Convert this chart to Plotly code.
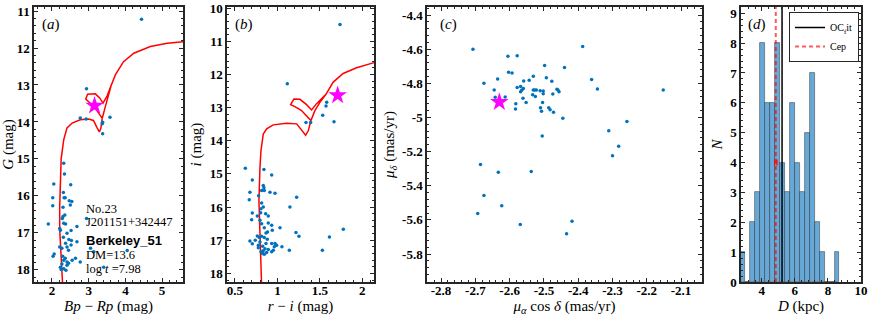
import plotly.graph_objects as go

# ---------------- data ----------------
# Panel (a): Gaia CMD
a_bprp = [4.44, 2.94, 2.77, 2.93, 3.38, 3.37, 3.58, 3.38,
          2.32, 2.34, 2.05, 2.51, 2.02, 2.31, 2.33, 2.36, 2.47, 2.54, 2.02, 2.50,
          2.30, 2.30, 2.28, 2.35, 2.94, 1.90, 2.32, 2.37, 2.68, 2.21, 2.23, 2.41,
          2.52, 2.31, 2.46, 2.53, 2.68, 2.37, 2.21, 2.27, 2.41, 2.52, 3.05, 3.14,
          2.03, 2.06, 2.45, 2.29, 2.32, 2.36, 2.41, 2.45, 2.27, 2.23, 2.32, 2.41,
          2.55, 2.64, 2.77, 2.38, 2.25, 3.41, 4.05]
a_g = [11.22, 13.10, 13.89, 13.92, 14.01, 14.05, 13.87, 14.32,
       15.12, 15.41, 15.68, 15.70, 16.05, 15.91, 16.05, 16.05, 16.13, 16.15, 16.27, 16.25,
       16.31, 16.56, 16.61, 16.52, 16.61, 16.76, 16.74, 16.76, 16.83, 16.88, 16.93, 17.01,
       16.94, 17.12, 17.18, 17.21, 17.24, 17.28, 17.38, 17.42, 17.38, 17.33, 17.42, 17.51,
       17.63, 17.57, 17.47, 17.63, 17.74, 17.69, 17.79, 17.82, 17.84, 17.93, 17.97, 17.88,
       17.74, 17.69, 17.79, 18.01, 17.99, 17.93, 17.48]
a_iso_x = [2.29, 2.25, 2.21, 2.21, 2.23, 2.25, 2.32, 2.41, 2.55, 2.77, 3.00, 3.13, 3.23, 3.29,
           3.33, 3.37, 3.45, 3.53, 3.61, 3.50, 3.39, 3.30, 3.18, 2.97, 2.92, 3.05, 3.20, 3.30,
           3.37, 3.45, 3.53, 3.61, 3.73, 3.95, 4.23, 4.68, 5.14, 5.59]
a_iso_y = [18.40, 17.60, 16.90, 16.30, 15.60, 15.00, 14.48, 14.16, 14.03, 13.94, 13.92, 13.96, 14.16, 14.27,
           14.18, 13.90, 13.60, 13.30, 13.02, 13.30, 13.49, 13.35, 13.24, 13.25, 13.38, 13.50, 13.66, 13.80,
           13.90, 13.60, 13.30, 13.02, 12.72, 12.37, 12.14, 11.96, 11.87, 11.83]
a_star = (3.16, 13.56)

# Panel (b): r - i CMD
b_ri = [1.737, 1.116, 1.58, 1.572, 1.533, 1.336, 1.391, 1.666,
        0.622, 0.841, 0.932, 0.704, 0.833, 0.841, 0.814, 0.845, 0.912, 0.971, 0.676, 0.778,
        1.226, 0.668, 0.814, 0.833, 0.806, 1.147, 0.704, 0.802, 0.861, 0.892, 0.763, 0.696,
        0.794, 0.892, 0.814, 0.932, 1.03, 0.845, 0.939, 0.884, 0.865, 1.776, 1.218, 1.253,
        1.612, 0.763, 0.814, 0.786, 0.845, 0.88, 0.676, 0.739, 0.794, 0.704, 0.775, 0.865,
        0.932, 0.971, 0.99, 0.963, 1.053, 0.775, 0.826, 0.853, 0.833, 0.892, 0.806, 0.873,
        0.932, 0.951, 1.14, 1.529, 0.826, 0.845]
b_i = [10.49, 12.28, 12.84, 12.95, 13.23, 13.45, 13.45, 13.43,
       14.83, 14.87, 15.03, 15.18, 15.35, 15.42, 15.50, 15.50, 15.55, 15.58, 15.55, 15.66,
       15.70, 15.78, 15.88, 16.00, 16.05, 16.00, 16.18, 16.17, 16.20, 16.27, 16.27, 16.38,
       16.40, 16.48, 16.50, 16.55, 16.62, 16.62, 16.70, 16.75, 16.78, 16.67, 16.77, 16.88,
       16.90, 16.87, 16.88, 16.92, 16.92, 16.97, 17.02, 17.00, 17.05, 17.11, 17.15, 17.10,
       17.10, 17.10, 17.15, 17.20, 17.20, 17.23, 17.18, 17.26, 17.32, 17.28, 17.35, 17.37,
       17.35, 17.30, 17.30, 17.30, 17.40, 17.42]
b_iso_x = [0.814, 0.794, 0.782, 0.794, 0.806, 0.833, 0.873, 0.950, 1.108, 1.226, 1.273, 1.332,
           1.363, 1.394, 1.441, 1.500, 1.571, 1.520, 1.461, 1.402, 1.343, 1.265, 1.194, 1.155,
           1.206, 1.284, 1.351, 1.394, 1.441, 1.500, 1.571, 1.657, 1.774, 1.932, 2.127, 2.20]
b_iso_y = [18.40, 16.83, 15.82, 14.81, 14.30, 13.80, 13.64, 13.52, 13.47, 13.49, 13.64, 13.83,
           13.70, 13.39, 13.09, 12.84, 12.60, 12.72, 12.88, 13.07, 12.91, 12.75, 12.74, 12.91,
           12.97, 13.09, 13.27, 13.39, 13.09, 12.84, 12.60, 12.23, 11.97, 11.80, 11.65, 11.62]
b_star = (1.709, 12.63)

# Panel (c): proper motions
c_pmra = [-2.707, -2.675, -2.645, -2.642, -2.635, -2.613, -2.605, -2.603, -2.593, -2.578,
          -2.578, -2.582, -2.583, -2.568, -2.565, -2.568, -2.560, -2.559, -2.561, -2.552,
          -2.543, -2.531, -2.531, -2.527, -2.522, -2.533, -2.525, -2.511, -2.502, -2.502,
          -2.504, -2.510, -2.507, -2.505, -2.498, -2.493, -2.486, -2.482, -2.477, -2.472,
          -2.474, -2.462, -2.459, -2.456, -2.445, -2.440, -2.387, -2.361, -2.344, -2.311,
          -2.282, -2.258, -2.300, -2.152,
          -2.685, -2.633, -2.537, -2.675, -2.623, -2.693, -2.569, -2.418, -2.434]
c_pmdec = [-4.600, -4.800, -4.839, -4.882, -4.775, -4.880, -4.641, -4.735, -4.739, -4.639,
           -4.825, -4.920, -4.951, -4.818, -4.841, -4.849, -4.831, -4.786, -4.888, -4.912,
           -4.782, -4.759, -4.839, -4.839, -4.839, -4.867, -4.878, -4.843, -4.845, -4.861,
           -4.912, -4.943, -4.963, -5.108, -4.696, -4.767, -4.943, -4.955, -4.788, -4.969,
           -4.863, -4.835, -4.839, -4.849, -5.004, -4.708, -4.584, -4.778, -4.833, -5.078,
           -5.169, -5.024, -5.224, -4.839,
           -5.276, -5.321, -5.317, -5.457, -5.518, -5.563, -5.627, -5.608, -5.682]
c_star = (-2.63, -4.91)

# Panel (d): distance histogram
d_bin_edges = [2.7, 3.0, 3.3, 3.6, 3.9, 4.2, 4.5, 4.8, 5.1, 5.4, 5.7, 6.0, 6.3, 6.6,
               6.9, 7.2, 7.5, 7.8, 8.1, 8.4, 8.7]
d_counts = [1, 0, 2, 3, 8, 6, 6, 8, 4, 3, 6, 4, 3, 5, 7, 2, 1, 0, 0, 1]
d_oc_fit = 5.23
d_cep = 4.85
d_cep_err = 0.07
d_cep_err_y = 4

# tick labels
a_xticks = [2, 3, 4, 5]
a_yticks = [11, 12, 13, 14, 15, 16, 17, 18]
b_xticks = [0.5, 1, 1.5, 2]
b_xticklabels = ["0.5", "1", "1.5", "2"]
b_yticks = [10, 11, 12, 13, 14, 15, 16, 17, 18]
c_xticks = [-2.8, -2.7, -2.6, -2.5, -2.4, -2.3, -2.2, -2.1]
c_xticklabels = ["-2.8", "-2.7", "-2.6", "-2.5", "-2.4", "-2.3", "-2.2", "-2.1"]
c_yticks = [-4.4, -4.6, -4.8, -5.0, -5.2, -5.4, -5.6, -5.8]
c_yticklabels = ["-4.4", "-4.6", "-4.8", "-5", "-5.2", "-5.4", "-5.6", "-5.8"]
d_xticks = [4, 6, 8, 10]
d_yticks = [0, 1, 2, 3, 4, 5, 6, 7, 8, 9]

# ---------------- figure ----------------
W, H = 872, 317
SERIF = "Liberation Serif, Times New Roman, serif"
PT_BLUE = "#0072BD"
ISO_RED = "#ff0000"
STAR = "#ff00ff"

fig = go.Figure()

def px_x(p):
    return p / W

def px_y(p):
    return 1 - p / H

dom_y = [px_y(282), px_y(7)]
domains = {
    "a": [px_x(34), px_x(183)],
    "b": [px_x(227), px_x(374)],
    "c": [px_x(427), px_x(702)],
    "d": [px_x(741), px_x(861)],
}

star_marker = dict(symbol="star", color=STAR, size=14, line=dict(width=0))
pt_marker = dict(color=PT_BLUE, size=3.5)

# panel a
fig.add_trace(go.Scatter(x=a_iso_x, y=a_iso_y, mode="lines", line=dict(color=ISO_RED, width=1.5),
                         xaxis="x", yaxis="y", showlegend=False, hoverinfo="skip"))
fig.add_trace(go.Scatter(x=a_bprp, y=a_g, mode="markers", marker=pt_marker,
                         xaxis="x", yaxis="y", showlegend=False))
fig.add_trace(go.Scatter(x=[a_star[0]], y=[a_star[1]], mode="markers", marker=star_marker,
                         xaxis="x", yaxis="y", showlegend=False))
# panel b
fig.add_trace(go.Scatter(x=b_iso_x, y=b_iso_y, mode="lines", line=dict(color=ISO_RED, width=1.5),
                         xaxis="x2", yaxis="y2", showlegend=False, hoverinfo="skip"))
fig.add_trace(go.Scatter(x=b_ri, y=b_i, mode="markers", marker=pt_marker,
                         xaxis="x2", yaxis="y2", showlegend=False))
fig.add_trace(go.Scatter(x=[b_star[0]], y=[b_star[1]], mode="markers", marker=star_marker,
                         xaxis="x2", yaxis="y2", showlegend=False))
# panel c
fig.add_trace(go.Scatter(x=c_pmra, y=c_pmdec, mode="markers", marker=pt_marker,
                         xaxis="x3", yaxis="y3", showlegend=False))
fig.add_trace(go.Scatter(x=[c_star[0]], y=[c_star[1]], mode="markers", marker=star_marker,
                         xaxis="x3", yaxis="y3", showlegend=False))
# panel d
centers = [(d_bin_edges[i] + d_bin_edges[i + 1]) / 2 for i in range(len(d_counts))]
widths = [d_bin_edges[i + 1] - d_bin_edges[i] for i in range(len(d_counts))]
fig.add_trace(go.Bar(x=centers, y=d_counts, width=widths,
                     marker=dict(color="#66a9d8", line=dict(color="rgba(30,30,30,0.55)", width=0.8)),
                     xaxis="x4", yaxis="y4", showlegend=False))
fig.add_trace(go.Scatter(x=[d_oc_fit, d_oc_fit], y=[0, 9.21], mode="lines",
                         line=dict(color="black", width=1.5), name="OC<sub>f</sub>it",
                         xaxis="x4", yaxis="y4"))
fig.add_trace(go.Scatter(x=[d_cep, d_cep], y=[0, 9.21], mode="lines",
                         line=dict(color="rgba(255,0,0,0.65)", width=2, dash="4px,3px"), name="Cep",
                         xaxis="x4", yaxis="y4"))
fig.add_trace(go.Scatter(x=[d_cep], y=[d_cep_err_y], mode="markers",
                         marker=dict(size=1, color="rgba(255,0,0,0)"),
                         error_x=dict(type="constant", value=d_cep_err, color="red", thickness=1.2, width=3),
                         xaxis="x4", yaxis="y4", showlegend=False))

tickfont = dict(family=SERIF, size=13, color="black", weight="bold")
titlefont = dict(family=SERIF, size=15, color="black")

def axis(domain, rng, tickvals, ticktext, minor_dtick, anchor, title, standoff, lab_off=0):
    return dict(
        domain=domain, range=rng, anchor=anchor,
        tickvals=tickvals, ticktext=[f"<b>{t}</b>" for t in ticktext],
        ticks="inside", ticklen=4, tickwidth=1, tickcolor="#262626",
        minor=dict(ticks="inside", ticklen=2, dtick=minor_dtick, tickcolor="#262626", tickwidth=1),
        showline=True, linecolor="#262626", linewidth=1.5, mirror="allticks",
        showgrid=False, zeroline=False, tickfont=tickfont, automargin=False,
        ticklabelstandoff=lab_off,
        title=dict(text=title, font=titlefont, standoff=standoff),
    )

lay = dict(
    width=W, height=H, margin=dict(l=0, r=0, t=0, b=0, pad=0),
    paper_bgcolor="white", plot_bgcolor="white",
    font=dict(family=SERIF, color="black"),
    legend=dict(x=px_x(859), y=px_y(12), xanchor="right", yanchor="top",
                bgcolor="white", bordercolor="#262626", borderwidth=1,
                font=dict(family=SERIF, size=10, color="black"),
                itemwidth=30, tracegroupgap=0),
    bargap=0,
)
XO = -4
lay["xaxis"] = axis(domains["a"], [1.51, 5.57], a_xticks, [str(v) for v in a_xticks], 0.2, "y",
                    "<i>Bp</i> − <i>Rp</i> (mag)", 2, XO)
lay["yaxis"] = axis(dom_y, [18.33, 10.89], a_yticks, [str(v) for v in a_yticks], 0.2, "x",
                    "<i>G</i> (mag)", 4)
lay["xaxis2"] = axis(domains["b"], [0.406, 2.137], b_xticks, b_xticklabels, 0.1, "y2",
                     "<i>r</i> − <i>i</i> (mag)", 2, XO)
lay["yaxis2"] = axis(dom_y, [18.26, 9.965], b_yticks, [str(v) for v in b_yticks], 0.2, "x2",
                     "<i>i</i> (mag)", 4)
lay["xaxis3"] = axis(domains["c"], [-2.841, -2.039], c_xticks, c_xticklabels, 0.02, "y3",
                     "<i>μ</i><sub><i>α</i></sub> cos <i>δ</i> (mas/yr)", 2, XO)
lay["yaxis3"] = axis(dom_y, [-5.964, -4.353], c_yticks, c_yticklabels, 0.04, "x3",
                     "<i>μ</i><sub><i>δ</i></sub> (mas/yr)", 4)
lay["xaxis4"] = axis(domains["d"], [2.75, 10.0], d_xticks, [str(v) for v in d_xticks], 0.4, "y4",
                     "<i>D</i> (kpc)", 2, XO)
lay["yaxis4"] = axis(dom_y, [0, 9.21], d_yticks, [str(v) for v in d_yticks], 0.2, "x4",
                     "<i>N</i>", 4)
fig.update_layout(**lay)

# panel labels
for ref, lab in [("", "a"), ("2", "b"), ("3", "c"), ("4", "d")]:
    fig.add_annotation(xref=f"x{ref} domain", yref=f"y{ref} domain", x=0.04, y=0.975,
                       xanchor="left", yanchor="top", showarrow=False,
                       text=f"(<i>{lab}</i>)", font=dict(family=SERIF, size=15, color="black"))

# info text in panel a
info = [
    ("No.23", 16.36, dict(family=SERIF, size=12.5, color="black")),
    ("J201151+342447", 16.72, dict(family=SERIF, size=12.5, color="black")),
    ("Berkeley_51", 17.21, dict(family="Liberation Sans, Arial, sans-serif", size=13, color="black", weight="bold")),
    ("DM=13.6", 17.60, dict(family=SERIF, size=12.5, color="black")),
    ("log <i>t</i> =7.98", 17.97, dict(family=SERIF, size=12.5, color="black")),
]
for txt, yv, f in info:
    fig.add_annotation(xref="x", yref="y", x=2.91, y=yv, xanchor="left", yanchor="middle",
                       showarrow=False, text=txt, font=f, borderpad=0)

fig.write_html("out.html", config={"displayModeBar": False},
               post_script="document.body.style.margin='0';document.body.style.padding='0';"
                           "document.documentElement.style.margin='0';")
